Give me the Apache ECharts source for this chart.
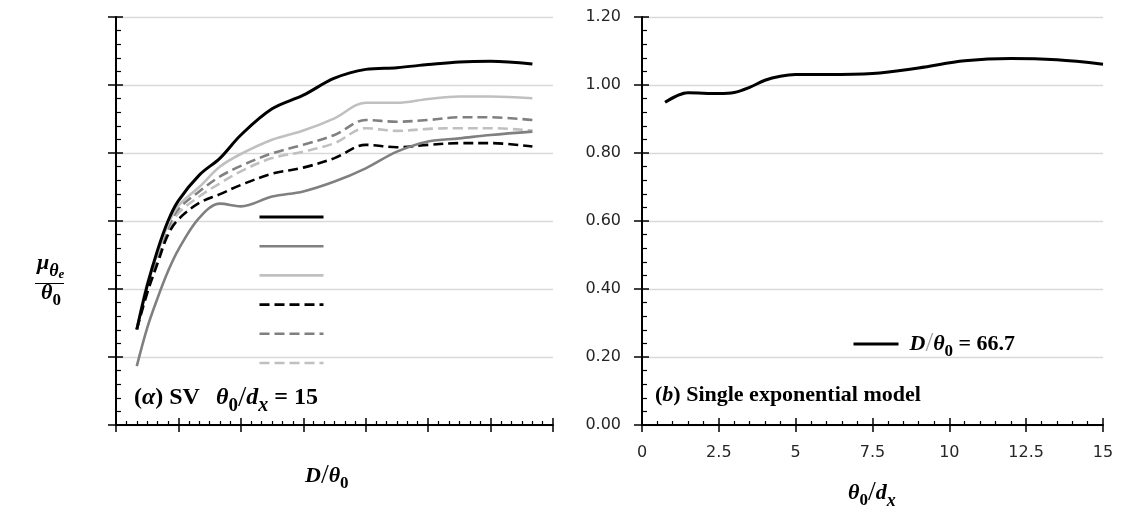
<!DOCTYPE html>
<html><head><meta charset="utf-8">
<script src="https://cdn.jsdelivr.net/npm/echarts@6/dist/echarts.min.js"></script>
<style>html,body{margin:0;padding:0;background:#fff}#c{width:1126px;height:511px}</style>
</head><body><div id="c"></div>
<script>
// ---- data: panel (a) ----
const dRatio      = [3.33, 5, 6.67, 8.33, 10, 13.33, 16.67, 20, 25, 30, 35, 40, 45, 50, 55, 60, 66.7];
const blackSolid  = [0.281, 0.41, 0.515, 0.6, 0.66, 0.735, 0.785, 0.853, 0.93, 0.97, 1.02, 1.046, 1.051, 1.06, 1.068, 1.07, 1.062];
const graySolid   = [0.173, 0.286, 0.374, 0.452, 0.516, 0.609, 0.651, 0.643, 0.672, 0.687, 0.716, 0.755, 0.804, 0.834, 0.843, 0.853, 0.863];
const lightSolid  = [0.281, 0.418, 0.506, 0.59, 0.645, 0.70, 0.76, 0.797, 0.839, 0.866, 0.902, 0.948, 0.948, 0.959, 0.966, 0.966, 0.961];
const blackDash   = [0.281, 0.388, 0.476, 0.56, 0.605, 0.653, 0.679, 0.706, 0.739, 0.757, 0.785, 0.824, 0.817, 0.824, 0.829, 0.829, 0.819];
const grayDash    = [0.281, 0.408, 0.496, 0.58, 0.635, 0.687, 0.731, 0.762, 0.799, 0.824, 0.853, 0.897, 0.892, 0.897, 0.905, 0.905, 0.897];
const lightDash   = [0.281, 0.403, 0.49, 0.572, 0.623, 0.672, 0.711, 0.746, 0.785, 0.804, 0.829, 0.873, 0.865, 0.871, 0.873, 0.873, 0.866];
// ---- data: panel (b) ----
const thetaRatio  = [0.75, 1.5, 2.5, 3, 3.5, 4, 4.5, 5, 6, 7.5, 9, 10.5, 12, 13.5, 15];
const singleExp   = [0.949, 0.977, 0.975, 0.978, 0.993, 1.014, 1.026, 1.031, 1.031, 1.034, 1.05, 1.071, 1.078, 1.074, 1.061];
const singleExpName = 'D/θ0 = 66.7';
// ---- axes ----
const yMin = 0, yMax = 1.2, yStep = 0.2;
const aMin = 0, aMax = 70, aStep = 10;
const bMin = 0, bMax = 15, bStep = 2.5;

const leftCurves = [
  {name: 'c1', y: blackSolid},
  {name: 'c2', y: graySolid},
  {name: 'c3', y: lightSolid},
  {name: 'c4', y: blackDash},
  {name: 'c5', y: grayDash},
  {name: 'c6', y: lightDash}
];
const leftStyles = [
  {color: '#000000', type: 'solid', width: 3},
  {color: '#808080', type: 'solid', width: 2.6},
  {color: '#c0c0c0', type: 'solid', width: 2.6},
  {color: '#000000', type: [10, 5], width: 2.6},
  {color: '#808080', type: [10, 5], width: 2.6},
  {color: '#c0c0c0', type: [10, 5], width: 2.6}
];

const chart = echarts.init(document.getElementById('c'), null, {renderer: 'canvas'});

const AX = '#000';
function mainX(grid, min, max, step, labels, minorSplit) {
  return {
    type: 'value', gridIndex: grid, min: min, max: max, interval: step, position: 'bottom',
    axisLine: {show: true, onZero: false, lineStyle: {color: AX, width: 2}},
    axisTick: {show: true, inside: true, length: 7, lineStyle: {color: AX, width: 1.5}},
    minorTick: {show: true, splitNumber: minorSplit, length: 4, lineStyle: {color: AX, width: 1.2}},
    axisLabel: labels ? {show: true, margin: 20, color: '#262626', fontFamily: 'DejaVu Sans', fontSize: 16} : {show: false},
    splitLine: {show: false}
  };
}
function crossX(grid, min, max, step) {
  return {
    type: 'value', gridIndex: grid, min: min, max: max, interval: step, position: 'bottom', offset: 0,
    axisLine: {show: false}, axisTick: {show: true, inside: false, length: 7, lineStyle: {color: AX, width: 1.5}},
    axisLabel: {show: false}, splitLine: {show: false}
  };
}
function mainY(grid, labels) {
  return {
    type: 'value', gridIndex: grid, min: yMin, max: yMax, interval: yStep, position: 'left',
    axisLine: {show: true, onZero: false, lineStyle: {color: AX, width: 2}},
    axisTick: {show: true, inside: true, length: 7, lineStyle: {color: AX, width: 1.5}},
    minorTick: {show: true, splitNumber: 5, length: 5, lineStyle: {color: AX, width: 1.2}},
    axisLabel: labels ? {show: true, margin: 21, color: '#262626', fontFamily: 'DejaVu Sans', fontSize: 16,
      formatter: v => v.toFixed(2)} : {show: false},
    splitLine: {show: true, lineStyle: {color: '#d9d9d9', width: 1.3}}
  };
}
function crossY(grid) {
  return {
    type: 'value', gridIndex: grid, min: yMin, max: yMax, interval: yStep, position: 'left', offset: 0,
    axisLine: {show: false}, axisTick: {show: true, inside: false, length: 8, lineStyle: {color: AX, width: 1.5}},
    axisLabel: {show: false}, splitLine: {show: false}
  };
}

const series = leftCurves.map((c, i) => ({
  name: c.name, type: 'line', xAxisIndex: 0, yAxisIndex: 0, smooth: 0.35, symbol: 'none',
  data: dRatio.map((x, k) => [x, c.y[k]]),
  lineStyle: {color: leftStyles[i].color, width: leftStyles[i].width, type: leftStyles[i].type, cap: 'butt'},
  itemStyle: {color: leftStyles[i].color},
  z: 10 - i
}));
series.push({
  name: singleExpName, type: 'line', xAxisIndex: 1, yAxisIndex: 1, smooth: 0.35, symbol: 'none',
  data: thetaRatio.map((x, k) => [x, singleExp[k]]),
  lineStyle: {color: '#000', width: 3}, itemStyle: {color: '#000'}
});

const serif = 'Liberation Serif';
function richSet(big) {
  return {
    r:  {fontFamily: serif, fontWeight: 'bold', fontSize: big, color: '#000'},
    i:  {fontFamily: serif, fontWeight: 'bold', fontStyle: 'italic', fontSize: big, color: '#000'},
    s:  {fontFamily: serif, fontWeight: 'normal', fontSize: big + 6, color: '#a0a0a0'},
    sub:{fontFamily: serif, fontWeight: 'bold', fontSize: big - 5, color: '#000', padding: [16, 0, 0, 0]},
    subi:{fontFamily: serif, fontWeight: 'bold', fontStyle: 'italic', fontSize: big - 4, color: '#000', padding: [16, 0, 0, 0]},
    sp: {fontFamily: serif, fontSize: big, color: '#000', width: 8},
    n:  {fontFamily: serif, fontWeight: 'bold', fontSize: big, color: '#000'}
  };
}
const richA = richSet(24);
const richB = richSet(22);
const richT = richSet(22);

const option = {
  backgroundColor: '#fff',
  animation: false,
  grid: [
    {left: 116, top: 17, width: 437, height: 408, containLabel: false},
    {left: 642, top: 17, width: 461, height: 408, containLabel: false}
  ],
  xAxis: [mainX(0, aMin, aMax, aStep, false, 6), mainX(1, bMin, bMax, bStep, true, 5),
          crossX(0, aMin, aMax, aStep), crossX(1, bMin, bMax, bStep)],
  yAxis: [mainY(0, false), mainY(1, true), crossY(0), crossY(1)],
  legend: [
    {
      data: leftCurves.map(c => c.name), orient: 'vertical', left: 258, top: 212, padding: 0,
      itemWidth: 64, itemHeight: 10, itemGap: 20.2, formatter: () => '', selectedMode: false,
      itemStyle: {opacity: 0}, lineStyle: {width: 'inherit'}, textStyle: {fontSize: 1}
    },
    {
      data: [singleExpName], left: 852, top: 330, padding: 0, itemWidth: 45, itemHeight: 10, itemGap: 0,
      selectedMode: false, itemStyle: {opacity: 0}, lineStyle: {width: 'inherit'},
      formatter: () => '{i|D}{s|/}{i|θ}{sub|0}{n| = 66.7}',
      textStyle: {rich: richB, padding: [0, 0, 0, 6]}
    }
  ],
  series: series,
  graphic: [
    // panel (a) annotation
    {type: 'text', left: 134, top: 383, style: {
      text: '{r|(}{i|α}{r|) SV}{sp|}{sp|}{i|θ}{sub|0}{s|/}{i|d}{subi|x}{n| = 15}', rich: richA}},
    // panel (b) annotation
    {type: 'text', left: 655, top: 384, style: {
      text: '{r|(}{i|b}{r|) Single exponential model}', rich: richB}},
    // x-axis titles
    {type: 'text', left: 305, top: 462, style: {
      text: '{i|D}{s|/}{i|θ}{sub|0}', rich: richT}},
    {type: 'text', left: 848, top: 479, style: {
      text: '{i|θ}{sub|0}{s|/}{i|d}{subi|x}', rich: richT}},
    // y-axis title (fraction)
    {type: 'text', left: 37, top: 252, style: {
      text: '{i|μ}{subi|θ}{ss|e}', rich: Object.assign({}, richSet(22), {
        ss: {fontFamily: serif, fontWeight: 'bold', fontStyle: 'italic', fontSize: 13, color: '#000', padding: [24, 0, 0, 0]}})}},
    {type: 'line', shape: {x1: 35, y1: 283.5, x2: 64, y2: 283.5}, style: {stroke: '#000', lineWidth: 1}},
    {type: 'text', left: 41, top: 282, style: {
      text: '{i|θ}{sub|0}', rich: richSet(22)}}
  ]
};
chart.setOption(option);
</script>
</body></html>
